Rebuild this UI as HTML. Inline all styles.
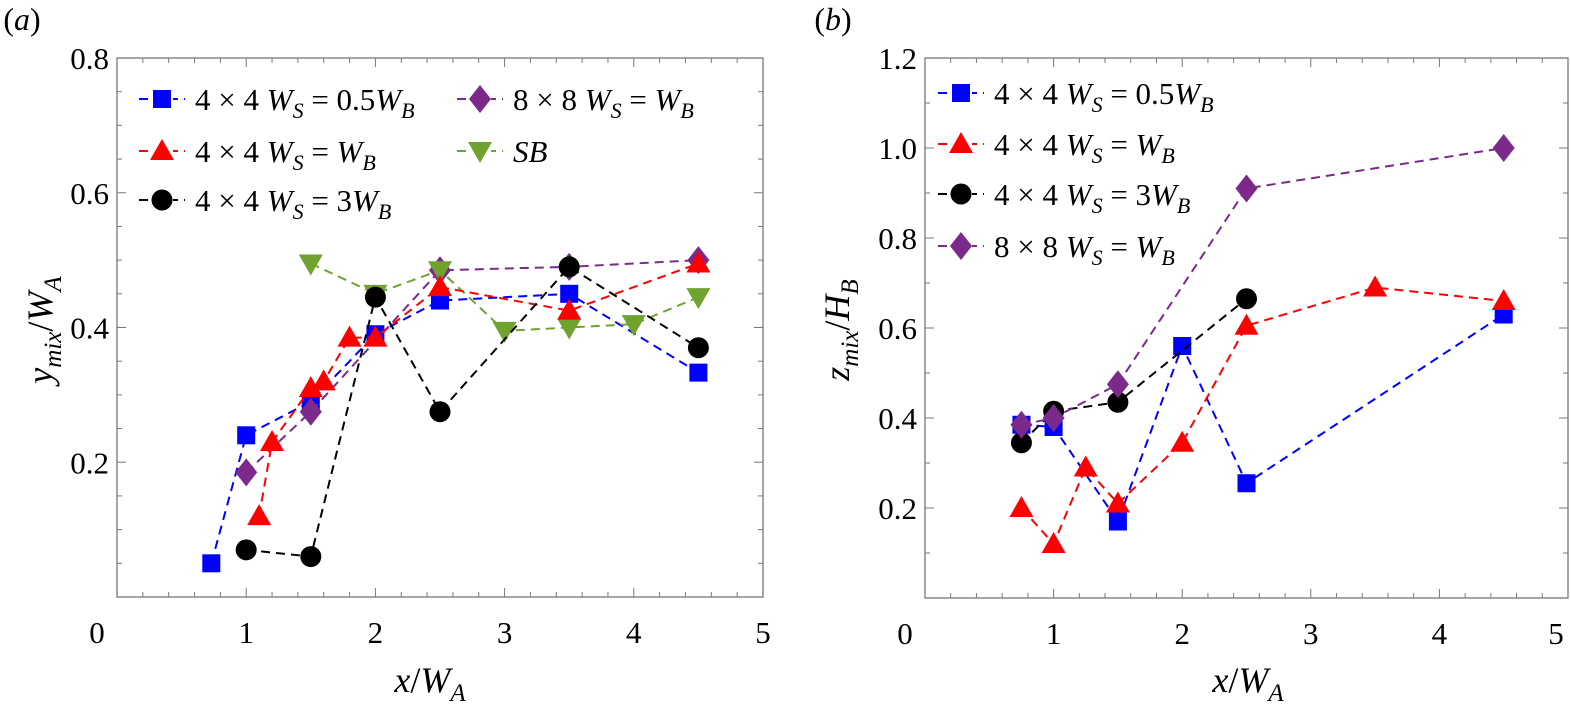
<!DOCTYPE html>
<html><head><meta charset="utf-8"><style>
body{margin:0;background:#fff;}
svg, svg text, svg tspan{font-family:"Liberation Serif","Times New Roman",Times,"DejaVu Serif","Noto Serif CJK SC",serif;}
</style></head><body>
<svg id="fig" width="1571" height="707" viewBox="0 0 1571 707" xmlns="http://www.w3.org/2000/svg"></svg>
<script>
// Panel (a) data
const aBlueX=[0.73,1,1.5,2,2.5,3.5,4.5];
const aBlueY=[0.05,0.24,0.29,0.39,0.44,0.45,0.333];
const aRedX=[1.1,1.2,1.5,1.6,1.8,2,2.5,3.5,4.5];
const aRedY=[0.12,0.23,0.31,0.32,0.385,0.385,0.46,0.425,0.495];
const aBlackX=[1,1.5,2,2.5,3.5,4.5];
const aBlackY=[0.07,0.06,0.445,0.275,0.49,0.37];
const aPurpleX=[1,1.5,2.5,3.5,4.5];
const aPurpleY=[0.185,0.275,0.485,0.49,0.5];
const aGreenX=[1.5,2,2.5,3,3.5,4,4.5];
const aGreenY=[0.495,0.45,0.485,0.395,0.4,0.405,0.445];
// Panel (b) data
const bBlueX=[0.75,1,1.5,2,2.5,4.5];
const bBlueY=[0.385,0.38,0.17,0.56,0.255,0.63];
const bRedX=[0.75,1,1.25,1.5,2,2.5,3.5,4.5];
const bRedY=[0.2,0.12,0.29,0.21,0.345,0.605,0.69,0.66];
const bBlackX=[0.75,1,1.5,2.5];
const bBlackY=[0.345,0.415,0.435,0.665];
const bPurpleX=[0.75,1,1.5,2.5,4.5];
const bPurpleY=[0.385,0.4,0.475,0.91,1.0];
const xTicks=[0,1,2,3,4,5];
const aYTicks=["0.2","0.4","0.6","0.8"];
const bYTicks=["0.2","0.4","0.6","0.8","1.0","1.2"];

const NS="http://www.w3.org/2000/svg";
const svg=document.getElementById('fig');
function el(tag,attrs,parent,text){const e=document.createElementNS(NS,tag);for(const k in attrs)e.setAttribute(k,attrs[k]);if(text!==undefined)e.textContent=text;(parent||svg).appendChild(e);return e;}
const COL={blue:"#0000ff",red:"#ff0000",black:"#000000",purple:"#7b2a8c",green:"#6fa22e"};

function marker(g,type,cx,cy,c){
  let m;
  if(type==='sq')m=el('rect',{x:cx-9,y:cy-9,width:18,height:18,fill:c},g);
  else if(type==='tri')m=el('polygon',{points:`${cx},${cy-12} ${cx+12},${cy+9} ${cx-12},${cy+9}`,fill:c},g);
  else if(type==='dtri')m=el('polygon',{points:`${cx},${cy+12} ${cx+12},${cy-9} ${cx-12},${cy-9}`,fill:c},g);
  else if(type==='circ')m=el('circle',{cx:cx,cy:cy,r:10.5,fill:c},g);
  else m=el('polygon',{points:`${cx},${cy-14} ${cx+11},${cy} ${cx},${cy+14} ${cx-11},${cy}`,fill:c},g);
  return m;
}

function panel(o){
  const sx=v=>o.x0+(v/5)*(o.x1-o.x0);
  const sy=v=>o.y1-(v/o.ymax)*(o.y1-o.y0);
  const g=el('g',{});  
  const frame=el('rect',{x:o.x0,y:o.y0,width:o.x1-o.x0,height:o.y1-o.y0,fill:'none',stroke:'#777','stroke-width':1.3},g);
  
  for(let v=0;v<=5.001;v+=0.2){const X=sx(v);const major=Math.abs(v-Math.round(v))<1e-6;const L=major?9:5;
    el('line',{x1:X,x2:X,y1:o.y1,y2:o.y1-L,stroke:'#777'},g);el('line',{x1:X,x2:X,y1:o.y0,y2:o.y0+L,stroke:'#777'},g);}
  xTicks.forEach(t=>{let dx=0;if(t===0)dx=-20;if(t===5&&o.x1>1500)dx=-12;
    const tx=el('text',{x:sx(t)+dx,y:o.y1+46,'font-size':31,'text-anchor':'middle'},g,String(t));
    });
  for(let v=o.ystep;v<o.ymax+1e-6;v+=o.ystep){const Y=sy(v);const major=Math.abs(v/0.2-Math.round(v/0.2))<1e-6;const L=major?9:5;
    el('line',{x1:o.x0,x2:o.x0+L,y1:Y,y2:Y,stroke:'#777'},g);el('line',{x1:o.x1,x2:o.x1-L,y1:Y,y2:Y,stroke:'#777'},g);}
  o.yTicks.forEach(t=>{const ty=el('text',{x:o.x0-8,y:sy(parseFloat(t))+11,'font-size':31,'text-anchor':'end'},g,t);
    });
  o.series.forEach(s=>{
    const sg=el('g',{},g);
    const pts=s.xs.map((x,i)=>sx(x)+','+sy(s.ys[i])).join(' ');
    const pl=el('polyline',{points:pts,fill:'none',stroke:s.c,'stroke-width':2,'stroke-dasharray':'9,6'},sg);
    
    s.xs.forEach((x,i)=>{const m=marker(sg,s.t,sx(x),sy(s.ys[i]),s.c);
      });
  });
  o.legend.forEach(L=>{
    const lg=el('g',{},g);
    el('line',{x1:L.x,x2:L.x+47,y1:L.y,y2:L.y,stroke:L.c,'stroke-width':2,'stroke-dasharray':'9,6','stroke-dashoffset':-1},lg);
    el('rect',{x:L.x+13,y:L.y-13,width:22,height:26,fill:'#fff'},lg);
    marker(lg,L.t,L.x+24,L.y,L.c);
    const tx=el('text',{x:L.x+57,y:L.y+11,'font-size':31},lg);
    tx.innerHTML=L.html;
  });
}
const W=(s)=>`<tspan font-style="italic">W</tspan><tspan font-style="italic" font-size="22" dy="8">${s}</tspan><tspan dy="-8"> </tspan>`;
const lab1=`4 × 4 `+W('S')+`= 0.5`+W('B');
const lab2=`4 × 4 `+W('S')+`= `+W('B');
const lab3=`4 × 4 `+W('S')+`= 3`+W('B');
const lab4=`8 × 8 `+W('S')+`= `+W('B');

panel({name:'panel-a',x0:117,x1:763,y0:58,y1:597,ymax:0.8,ystep:0.05,yTicks:aYTicks,
 series:[
  {name:'series-4x4-0.5wb',xs:aBlueX,ys:aBlueY,c:COL.blue,t:'sq'},
  {name:'series-8x8-wb',xs:aPurpleX,ys:aPurpleY,c:COL.purple,t:'dia'},
  {name:'series-sb',xs:aGreenX,ys:aGreenY,c:COL.green,t:'dtri'},
  {name:'series-4x4-wb',xs:aRedX,ys:aRedY,c:COL.red,t:'tri'},
  {name:'series-4x4-3wb',xs:aBlackX,ys:aBlackY,c:COL.black,t:'circ'}],
 legend:[
  {x:138,y:99,c:COL.blue,t:'sq',html:lab1},
  {x:138,y:151,c:COL.red,t:'tri',html:lab2},
  {x:138,y:200,c:COL.black,t:'circ',html:lab3},
  {x:456,y:99,c:COL.purple,t:'dia',html:lab4},
  {x:456,y:151,c:COL.green,t:'dtri',html:'<tspan font-style="italic">SB</tspan>'}]});

panel({name:'panel-b',x0:925,x1:1568,y0:58,y1:598,ymax:1.2,ystep:0.1,yTicks:bYTicks,
 series:[
  {name:'series-4x4-0.5wb',xs:bBlueX,ys:bBlueY,c:COL.blue,t:'sq'},
  {name:'series-4x4-wb',xs:bRedX,ys:bRedY,c:COL.red,t:'tri'},
  {name:'series-4x4-3wb',xs:bBlackX,ys:bBlackY,c:COL.black,t:'circ'},
  {name:'series-8x8-wb',xs:bPurpleX,ys:bPurpleY,c:COL.purple,t:'dia'}],
 legend:[
  {x:937,y:93,c:COL.blue,t:'sq',html:lab1},
  {x:937,y:144,c:COL.red,t:'tri',html:lab2},
  {x:937,y:194,c:COL.black,t:'circ',html:lab3},
  {x:937,y:246,c:COL.purple,t:'dia',html:lab4}]});

function t(x,y,html,name,rot,size){const e=document.createElementNS(NS,'text');e.setAttribute('x',x);e.setAttribute('y',y);e.setAttribute('font-size',size||36);e.setAttribute('text-anchor','middle');
 if(rot)e.setAttribute('transform',`rotate(-90 ${x} ${y})`);e.innerHTML=html;
 
 
 svg.appendChild(e);}
t(22,30,'(<tspan font-style="italic">a</tspan>)','panel-label-a',false,32);
t(833,30,'(<tspan font-style="italic">b</tspan>)','panel-label-b',false,32);
const xt='<tspan font-style="italic">x</tspan>/<tspan font-style="italic">W</tspan><tspan font-style="italic" font-size="25" dy="9">A</tspan>';
t(430,692,xt,'x-axis-title-a');
t(1248,692,xt,'x-axis-title-b');
t(52,330,'<tspan font-style="italic">y</tspan><tspan font-style="italic" font-size="25" dy="9">mix</tspan><tspan dy="-9">/</tspan><tspan font-style="italic">W</tspan><tspan font-style="italic" font-size="25" dy="9">A</tspan>','y-axis-title-a',true);
t(849,330,'<tspan font-style="italic">z</tspan><tspan font-style="italic" font-size="25" dy="9">mix</tspan><tspan dy="-9">/</tspan><tspan font-style="italic">H</tspan><tspan font-style="italic" font-size="25" dy="9">B</tspan>','y-axis-title-b',true);
</script>
</body></html>
